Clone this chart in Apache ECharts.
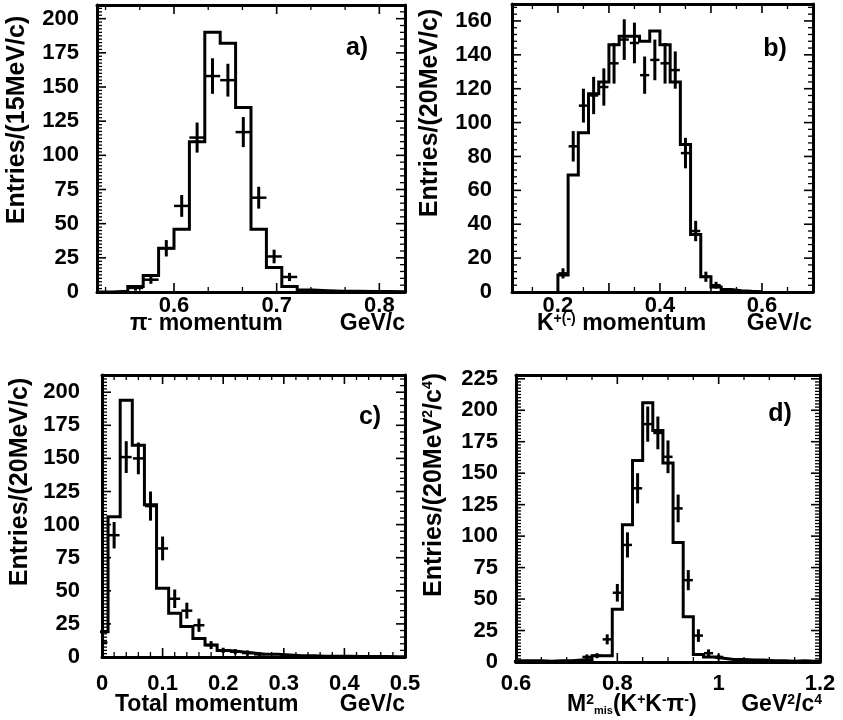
<!DOCTYPE html>
<html><head><meta charset="utf-8">
<script src="https://cdn.jsdelivr.net/npm/echarts@6/dist/echarts.min.js"></script>
<style>html,body{margin:0;padding:0;background:#fff}#c{width:843px;height:720px}</style>
</head><body><div id="c"></div>
<script>
// ---------- Panel a : pi- momentum (15 MeV bins) ----------
const aBinStart = 0.525, aBinWidth = 0.015;
const aHist  = [0, 0.5, 4, 12, 32, 46, 110, 190, 182, 135, 46, 18, 4, 1.5, 1, 0.5, 0.5, 0.3, 0.3, 0.2];
const aPtsX  = [0.5625, 0.5775, 0.5925, 0.6075, 0.6225, 0.6375, 0.6525, 0.6675, 0.6825, 0.6975, 0.7125];
const aPtsY  = [3, 9, 32, 63, 113, 158, 155, 117, 69, 26, 11];
const aErr   = [2, 3, 6, 8, 11, 13, 12, 11, 8, 5, 3];

// ---------- Panel b : K momentum (20 MeV bins) ----------
const bBinStart = 0.20, bBinWidth = 0.02;
const bHist  = [10, 69, 94, 117, 124, 146, 151, 151, 148, 154, 146, 124, 87, 34, 9, 3, 1.5, 0.8, 0.4, 0.2];
const bPtsX  = [0.21, 0.23, 0.25, 0.27, 0.29, 0.31, 0.33, 0.35, 0.37, 0.39, 0.41, 0.43, 0.45, 0.47, 0.49, 0.51, 0.53];
const bPtsY  = [11, 86, 110, 116, 121, 135, 149, 147, 128, 137, 135, 131, 82, 36, 9, 4, 1];
const bErr   = [3, 9, 10, 11, 11, 12, 12, 12, 11, 12, 12, 11, 9, 6, 3, 2, 1];

// ---------- Panel c : total momentum (20 MeV bins) ----------
const cBinStart = -0.01, cBinWidth = 0.02;
const cHist  = [19, 106, 194, 160, 115, 52, 33, 23, 14, 9, 5, 4, 3, 2, 2, 1.5, 1, 1, 0.5, 0.5, 0.5, 0.3, 0.3, 0.3, 0.2, 0.2];
const cPtsX  = [0, 0.02, 0.04, 0.06, 0.08, 0.10, 0.12, 0.14, 0.16, 0.18, 0.20, 0.22, 0.24, 0.26];
const cPtsY  = [11, 92, 151, 150, 114, 82, 44, 35, 24, 9, 5, 4, 3, 2];
const cErr   = [3, 10, 12, 12, 11, 9, 7, 6, 5, 3, 2, 2, 2, 1.5];

// ---------- Panel d : missing mass squared (0.02 GeV^2 bins) ----------
const dBinStart = 0.59, dBinWidth = 0.02;
const dHist  = [1, 1, 1, 0.5, 1, 1, 1.5, 2, 5, 5, 42, 109, 160, 206, 184, 158, 95, 36, 6, 4, 3, 2, 2, 1.5, 1.5, 1, 1, 0.5, 1, 0.5, 0.5];
const dPtsX  = [0.74, 0.76, 0.78, 0.80, 0.82, 0.84, 0.86, 0.88, 0.90, 0.92, 0.94, 0.96, 0.98, 1.00];
const dPtsY  = [4, 5, 18, 55, 93, 138, 189, 182, 163, 122, 65, 21, 7, 4];
const dErr   = [2, 2, 4, 7, 10, 12, 14, 13, 13, 11, 8, 5, 3, 2];

const FONT = '"Liberation Sans", Arial, Helvetica, sans-serif';

const panels = [
  {grid:{left:97, top:5, width:308, height:287}, xMin:0.525, xMax:0.825, xStep:0.1, xMinor:3, xLabStep:0.1, xMargin:3,
   yMax:210, yStep:25, yMinorL:10, yMinorR:5, yMargin:18, bs:aBinStart, bw:aBinWidth, hist:aHist, px:aPtsX, py:aPtsY, pe:aErr, hw:0.0075},
  {grid:{left:512, top:4, width:301, height:288}, xMin:0.11, xMax:0.70, xStep:0.1, xMinor:2, xLabStep:0.2, xMargin:3,
   yMax:170, yStep:20, yMinorL:5, yMinorR:5, yMargin:20, bs:bBinStart, bw:bBinWidth, hist:bHist, px:bPtsX, py:bPtsY, pe:bErr, hw:0.009},
  {grid:{left:102, top:375, width:303, height:282}, xMin:0, xMax:0.5, xStep:0.1, xMinor:5, xLabStep:0.1, xMargin:16,
   yMax:213, yStep:25, yMinorL:10, yMinorR:5, yMargin:22, bs:cBinStart, bw:cBinWidth, hist:cHist, px:cPtsX, py:cPtsY, pe:cErr, hw:0.009},
  {grid:{left:516, top:375, width:304, height:287}, xMin:0.6, xMax:1.2, xStep:0.2, xMinor:4, xLabStep:0.2, xMargin:11,
   yMax:228, yStep:25, yMinorL:10, yMinorR:10, yMargin:18, bs:dBinStart, bw:dBinWidth, hist:dHist, px:dPtsX, py:dPtsY, pe:dErr, hw:0.009}
];

function isMult(v, s){ const r = v / s; return Math.abs(r - Math.round(r)) < 1e-6; }
const mkLabel = (extra) => Object.assign({show:true, color:'#000', fontFamily:FONT, fontWeight:'bold', fontSize:22,
  showMinLabel:true, showMaxLabel:true, hideOverlap:false}, extra);

// tick positions (major + minor) along one axis range
function tickList(side, lo, hi, step, nMinor){
  const ms = step / nMinor, out = [];
  const k0 = Math.ceil(lo / ms - 1e-9), k1 = Math.floor(hi / ms + 1e-9);
  for (let k = k0; k <= k1; k++) {
    const v = Math.round(k * ms * 1e6) / 1e6;
    if (Math.abs(v - lo) < 1e-9 || Math.abs(v - hi) < 1e-9) continue;
    out.push([side, v, (k % nMinor === 0) ? 1 : 0]);
  }
  return out;
}

const grids = [], xAxes = [], yAxes = [], series = [];
panels.forEach((p, i) => {
  grids.push(Object.assign({outerBoundsMode:'none', containLabel:false}, p.grid));
  const xAxis = (pos) => ({type:'value', gridIndex:i, position:pos, min:p.xMin, max:p.xMax,
    minInterval:p.xStep, maxInterval:p.xStep,
    axisLine:{show:true, onZero:false, lineStyle:{color:'#000', width:3}},
    axisTick:{show:false}, minorTick:{show:false},
    splitLine:{show:false}, minorSplitLine:{show:false},
    axisLabel: pos === 'bottom'
      ? mkLabel({margin:p.xMargin, formatter:(v)=> isMult(v, p.xLabStep) ? String(Math.round(v*10)/10) : ''})
      : {show:false}});
  xAxes.push(xAxis('bottom'), xAxis('top'));
  const yAxis = (pos) => ({type:'value', gridIndex:i, position:pos, min:0, max:p.yMax, interval:p.yStep,
    axisLine:{show:true, onZero:false, lineStyle:{color:'#000', width:3}},
    axisTick:{show:false}, minorTick:{show:false},
    splitLine:{show:false}, minorSplitLine:{show:false},
    axisLabel: pos === 'left'
      ? mkLabel({margin:p.yMargin, formatter:(v)=> isMult(v, p.yStep) ? String(Math.round(v)) : ''})
      : {show:false}});
  yAxes.push(yAxis('left'), yAxis('right'));

  // histogram outline
  const pts = [[p.bs, 0]];
  p.hist.forEach((v, k) => pts.push([p.bs + k * p.bw, v]));
  const endEdge = p.bs + p.hist.length * p.bw;
  pts.push([endEdge, p.hist[p.hist.length - 1]]);
  pts.push([endEdge, 0]);
  series.push({type:'line', step:'end', xAxisIndex:2*i, yAxisIndex:2*i, data:pts, symbol:'none',
    lineStyle:{color:'#000', width:3, join:'miter'}, clip:true, z:3, silent:true});

  // data points with error bars
  const hw = p.hw;
  series.push({type:'custom', xAxisIndex:2*i, yAxisIndex:2*i, clip:true, z:4, silent:true,
    data:p.px.map((x, k) => [x, p.py[k], p.pe[k]]),
    renderItem:(params, api) => {
      const x = api.value(0), y = api.value(1), e = api.value(2);
      const t = api.coord([x, y + e]), b = api.coord([x, Math.max(y - e, 0)]);
      const l = api.coord([x - hw, y]), r = api.coord([x + hw, y]);
      return {type:'group', children:[
        {type:'line', shape:{x1:t[0], y1:t[1], x2:b[0], y2:b[1]}, style:{stroke:'#000', lineWidth:3}},
        {type:'line', shape:{x1:l[0], y1:l[1], x2:r[0], y2:r[1]}, style:{stroke:'#000', lineWidth:2.5}}
      ]};
    }});

  // inward ticks on all four sides of the frame, placed through the axes' scales
  const ticks = [].concat(
    tickList(0, p.xMin, p.xMax, p.xStep, p.xMinor),
    tickList(1, p.xMin, p.xMax, p.xStep, p.xMinor),
    tickList(2, 0, p.yMax, p.yStep, p.yMinorL),
    tickList(3, 0, p.yMax, p.yStep, p.yMinorR));
  series.push({type:'custom', xAxisIndex:2*i, yAxisIndex:2*i, clip:false, z:5, silent:true,
    data:ticks,
    renderItem:(params, api) => {
      const side = api.value(0), v = api.value(1), major = api.value(2);
      const L = major ? 9 : 5;
      let pt, dx = 0, dy = 0;
      if (side === 0) { pt = api.coord([v, 0]); dy = -L; }
      else if (side === 1) { pt = api.coord([v, p.yMax]); dy = L; }
      else if (side === 2) { pt = api.coord([p.xMin, v]); dx = L; }
      else { pt = api.coord([p.xMax, v]); dx = -L; }
      return {type:'line', shape:{x1:pt[0], y1:pt[1], x2:pt[0] + dx, y2:pt[1] + dy},
        style:{stroke:'#000', lineWidth: major ? 1.6 : 1.3}};
    }});
});

function txt(x, y, text, opt){
  opt = opt || {};
  return {type:'text', x:x, y:y, rotation:opt.rot || 0, z:10, silent:true,
    style:{text:text, fill:'#000', fontFamily:FONT, fontWeight:'bold', fontSize:opt.size || 23,
      align:opt.align || 'left', verticalAlign:'middle',
      rich:{s:{fontSize:14, fontWeight:'bold', fontFamily:FONT, verticalAlign:'top'},
            b:{fontSize:11, fontWeight:'bold', fontFamily:FONT, verticalAlign:'bottom'}}}};
}
const R = Math.PI / 2;
const graphics = [
  txt(17, 120, 'Entries/(15MeV/c)', {rot:R, align:'center', size:25}),
  txt(430, 113, 'Entries/(20MeV/c)', {rot:R, align:'center', size:25}),
  txt(20, 482, 'Entries/(20MeV/c)', {rot:R, align:'center', size:25}),
  txt(434, 485, 'Entries/(20MeV{s|2}/c{s|4})', {rot:R, align:'center', size:25}),
  txt(130, 324, 'π{s|-} momentum'),
  txt(405, 324, 'GeV/c', {align:'right'}),
  txt(537, 324, 'K{s|+(-)} momentum'),
  txt(812, 324, 'GeV/c', {align:'right'}),
  txt(115, 705, 'Total momentum'),
  txt(405, 705, 'GeV/c', {align:'right'}),
  txt(567, 705, 'M{s|2}{b|mis}(K{s|+}K{s|-}π{s|-})'),
  txt(822, 705, 'GeV{s|2}/c{s|4}', {align:'right'}),
  txt(357, 48, 'a)', {align:'center', size:25}),
  txt(775, 49, 'b)', {align:'center', size:25}),
  txt(370, 417, 'c)', {align:'center', size:25}),
  txt(780, 414, 'd)', {align:'center', size:25})
];

const chart = echarts.init(document.getElementById('c'), null, {renderer:'canvas'});
chart.setOption({animation:false, backgroundColor:'#fff',
  grid:grids, xAxis:xAxes, yAxis:yAxes, series:series, graphic:{elements:graphics}});
</script>
</body></html>
